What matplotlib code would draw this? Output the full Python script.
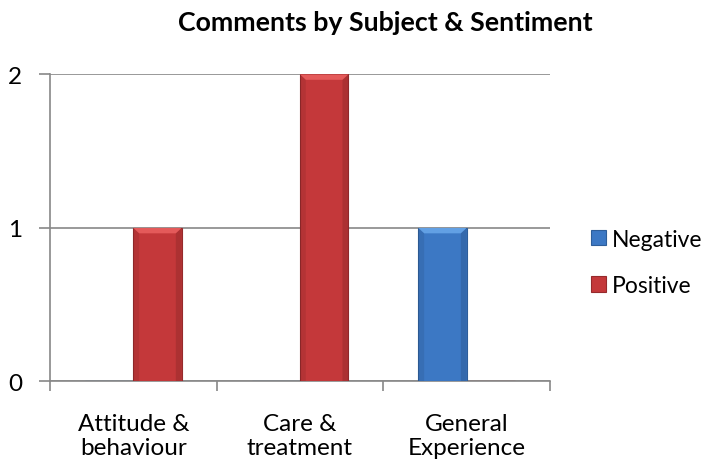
import matplotlib
matplotlib.use("Agg")
import matplotlib.pyplot as plt
from matplotlib.patches import Polygon
import numpy as np

plt.rcParams['font.family'] = ['Lato', 'DejaVu Sans']

# data
categories = ['Attitude &\nbehaviour', 'Care &\ntreatment', 'General\nExperience']
negative = [0, 0, 1]
positive = [1, 2, 0]
y_ticks = [0, 1, 2]

neg_col = '#3C78C4'
neg_light = '#62A0E4'
pos_col = '#C4383A'
pos_light = '#E45A5A'
grid_col = '#888888'

fig = plt.figure(figsize=(7.14, 4.6), dpi=100)
ax = fig.add_axes([0.070, 0.1685, 0.7003, 0.6675])

x = np.arange(len(categories))
w = 0.29
b_neg = ax.bar(x - w / 2, negative, w, color=neg_col, edgecolor='#2E5E9A', linewidth=0.8, label='Negative', zorder=3)
b_pos = ax.bar(x + w / 2, positive, w, color=pos_col, edgecolor='#962A2C', linewidth=0.8, label='Positive', zorder=3)

# bevel on top of each bar
bx = 0.035
by = 0.035
for bars, light in ((b_neg, neg_light), (b_pos, pos_light)):
    for r in bars:
        h = r.get_height()
        if h <= 0:
            continue
        x0, x1 = r.get_x(), r.get_x() + r.get_width()
        top = r.get_y() + h
        ax.add_patch(Polygon([(x0, top), (x1, top), (x1 - bx, top - by), (x0 + bx, top - by)],
                             closed=True, facecolor=light, edgecolor='none', zorder=4))
        ax.add_patch(Polygon([(x0, top), (x0 + bx, top - by), (x0 + bx, 0), (x0, 0)],
                             closed=True, facecolor='black', alpha=0.08, edgecolor='none', zorder=4))
        ax.add_patch(Polygon([(x1, top), (x1 - bx, top - by), (x1 - bx, 0), (x1, 0)],
                             closed=True, facecolor='black', alpha=0.12, edgecolor='none', zorder=4))

ax.set_xlim(-0.5, 2.5)
ax.set_ylim(0, 2)
ax.set_yticks(y_ticks)
ax.set_yticklabels([str(v) for v in y_ticks], fontsize=17.5)
ax.yaxis.grid(True, color=grid_col, linewidth=1.2, zorder=0)
ax.set_xticks(x)
ax.set_xticklabels(categories, fontsize=17.5, linespacing=1.15)
ax.set_xticks(np.arange(-0.5, 3, 1), minor=True)
ax.tick_params(axis='x', which='major', length=0, pad=23)
ax.tick_params(axis='x', which='minor', length=7, color=grid_col, width=1.2)
ax.tick_params(axis='y', length=8, color=grid_col, width=1.2, pad=12)

for s in ('top', 'right'):
    ax.spines[s].set_visible(False)
for s in ('left', 'bottom'):
    ax.spines[s].set_color(grid_col)
    ax.spines[s].set_linewidth(1.2)

fig.text(0.54, 0.9326, 'Comments by Subject & Sentiment', ha='center', va='baseline',
         fontsize=19.3, fontweight='bold')

ax.legend(loc='center left', bbox_to_anchor=(1.055, 0.388), frameon=False, fontsize=16.5,
          handlelength=0.65, handleheight=0.65, handletextpad=0.25, labelspacing=1.1,
          borderaxespad=0.2)

fig.savefig('out.png', dpi=100)
